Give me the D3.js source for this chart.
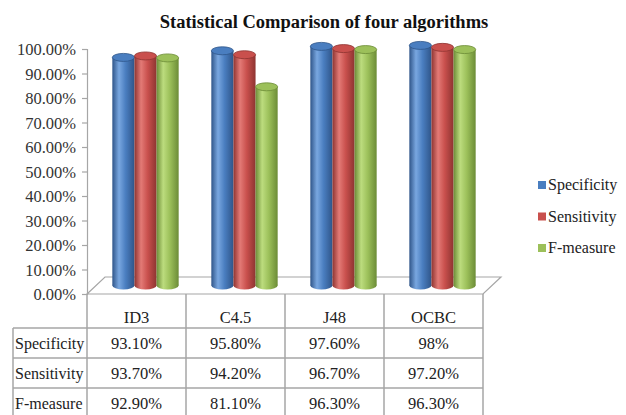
<!DOCTYPE html>
<html>
<head>
<meta charset="utf-8">
<script src="https://cdn.jsdelivr.net/npm/d3@7"></script>
<style>
  html, body { margin: 0; padding: 0; background: #fff; }
  svg { display: block; }
</style>
</head>
<body>
<svg id="chart" width="626" height="415"></svg>
<script>
const categories = ["ID3", "C4.5", "J48", "OCBC"];
const seriesNames = ["Specificity", "Sensitivity", "F-measure"];
const specificity = [93.1, 95.8, 97.6, 98];
const sensitivity = [93.7, 94.2, 96.7, 97.2];
const fmeasure = [92.9, 81.1, 96.3, 96.3];
const specificityLabels = ["93.10%", "95.80%", "97.60%", "98%"];
const sensitivityLabels = ["93.70%", "94.20%", "96.70%", "97.20%"];
const fmeasureLabels = ["92.90%", "81.10%", "96.30%", "96.30%"];
const yTicks = [0, 10, 20, 30, 40, 50, 60, 70, 80, 90, 100];
const titleText = "Statistical Comparison of four algorithms";

const FONT = "'Liberation Serif', 'Times New Roman', Tinos";
const seriesValues = [specificity, sensitivity, fmeasure];
const seriesLabels = [specificityLabels, sensitivityLabels, fmeasureLabels];
const colors = [
  { base: "#4A7EC0", light: "#79a7e0", dark: "#2f5589" },
  { base: "#C9504D", light: "#e37a76", dark: "#8e3431" },
  { base: "#9CC05A", light: "#bcdc7e", dark: "#6c8c37" }
];

const svg = d3.select("#chart");
const defs = svg.append("defs");
colors.forEach((c, i) => {
  const g = defs.append("linearGradient").attr("id", "grad" + i)
    .attr("x1", "0%").attr("x2", "100%").attr("y1", "0%").attr("y2", "0%");
  g.append("stop").attr("offset", "0%").attr("stop-color", c.dark);
  g.append("stop").attr("offset", "30%").attr("stop-color", c.light);
  g.append("stop").attr("offset", "60%").attr("stop-color", c.base);
  g.append("stop").attr("offset", "100%").attr("stop-color", c.dark);
});

function txt(sel, size) {
  return sel.attr("font-family", FONT).style("font-family", FONT)
    .style("font-size", size + "px").style("fill", "#222");
}

// geometry
const plotLeft = 87, plotRight = 483;
const floorY = 294, topY = 49;
const depthX = 18, depthY = -17;
const x = d3.scaleBand().domain(categories).range([plotLeft, plotRight]);
const y = d3.scaleLinear().domain([0, 100]).range([floorY, topY]);
const inner = d3.scaleBand().domain(seriesNames).range([0, x.bandwidth() * 0.67]);
const barOffX = (x.bandwidth() - x.bandwidth() * 0.67) / 2 + depthX / 2;
const barOffY = depthY / 2;

// title
txt(svg.append("text").attr("x", 324).attr("y", 28).attr("text-anchor", "middle"), 18.5)
  .style("font-weight", "bold").style("fill", "#111")
  .text(titleText);

// floor
const floorPts = [
  [plotLeft, floorY], [plotLeft + depthX, floorY + depthY],
  [plotRight + depthX, floorY + depthY], [plotRight, floorY]
];
svg.append("polygon").attr("points", floorPts.map(p => p.join(",")).join(" "))
  .attr("fill", "#fff").attr("stroke", "#a6a6a6").attr("stroke-width", 1.2);

// y axis
const yAxis = d3.axisLeft(y).tickValues(yTicks).tickSize(5).tickFormat(d => d.toFixed(2) + "%");
const ya = svg.append("g").attr("transform", `translate(${plotLeft},0)`).call(yAxis)
  .attr("font-family", FONT);
ya.select(".domain").attr("stroke", "#a6a6a6").attr("stroke-width", 1.2);
ya.selectAll(".tick line").attr("stroke", "#a6a6a6").attr("stroke-width", 1.2);
txt(ya.selectAll(".tick text").attr("x", -11).attr("dy", "0.35em"), 16.5).style("fill", "#333");

// bars (cylinders)
const ry = 4;
seriesNames.forEach((s, si) => {
  const g = svg.append("g");
  categories.forEach((c, ci) => {
    const v = seriesValues[si][ci];
    const bx = x(c) + barOffX + inner(s);
    const w = inner.bandwidth();
    const yt = y(v) + barOffY;
    const yb = y(0) + barOffY;
    const cx = bx + w / 2;
    g.append("ellipse").attr("cx", cx).attr("cy", yb).attr("rx", w / 2).attr("ry", ry)
      .attr("fill", `url(#grad${si})`);
    g.append("rect").attr("x", bx).attr("y", yt).attr("width", w).attr("height", yb - yt)
      .attr("fill", `url(#grad${si})`);
    g.append("ellipse").attr("cx", cx).attr("cy", yt).attr("rx", w / 2).attr("ry", ry)
      .attr("fill", colors[si].base).attr("stroke", colors[si].dark).attr("stroke-width", 0.8);
  });
});

// data table
const tableLeft = 13;
const headerBottom = 328;
const rowH = 30;
const lineColor = "#a6a6a6";
const tg = svg.append("g");
[...categories.map(c => x(c)), plotRight].forEach(xx => {
  tg.append("line").attr("x1", xx).attr("x2", xx).attr("y1", floorY).attr("y2", headerBottom + rowH * 3 + 5)
    .attr("stroke", lineColor).attr("stroke-width", 1.5);
});
tg.append("line").attr("x1", tableLeft).attr("x2", tableLeft).attr("y1", headerBottom).attr("y2", headerBottom + rowH * 3 + 5)
  .attr("stroke", lineColor).attr("stroke-width", 1.5);
for (let r = 0; r <= 2; r++) {
  const yy = headerBottom + r * rowH;
  tg.append("line").attr("x1", tableLeft).attr("x2", plotRight).attr("y1", yy).attr("y2", yy)
    .attr("stroke", lineColor).attr("stroke-width", 1.5);
}
categories.forEach(c => {
  txt(tg.append("text").attr("x", x(c) + x.bandwidth() / 2).attr("y", 323)
    .attr("text-anchor", "middle"), 16.5).text(c);
});
seriesNames.forEach((s, si) => {
  const cy = headerBottom + si * rowH + rowH / 2 + 5.5;
  txt(tg.append("text").attr("x", 15).attr("y", cy), 16).text(s);
  categories.forEach((c, ci) => {
    txt(tg.append("text").attr("x", x(c) + x.bandwidth() / 2).attr("y", cy)
      .attr("text-anchor", "middle"), 16.5).text(seriesLabels[si][ci]);
  });
});

// legend
const lg = svg.append("g");
seriesNames.forEach((s, si) => {
  const ly = 185 + si * 31.5;
  lg.append("rect").attr("x", 538).attr("y", ly - 4).attr("width", 8).attr("height", 8)
    .attr("fill", colors[si].base);
  txt(lg.append("text").attr("x", 548).attr("y", ly + 5), 16).text(s);
});
</script>
</body>
</html>
